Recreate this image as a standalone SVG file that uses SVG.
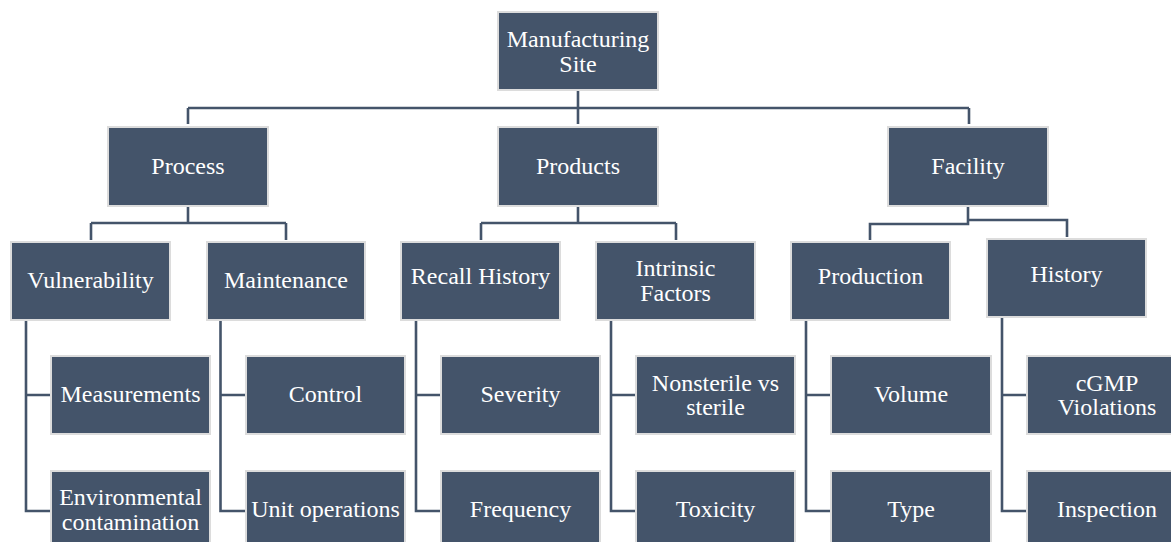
<svg xmlns="http://www.w3.org/2000/svg" width="1171" height="542" viewBox="0 0 1171 542">
<style>
.box{fill:#44546A;stroke:#dcdcdc;stroke-width:2}
.lbl{font-family:"Liberation Serif","Times New Roman",serif;font-size:24px;fill:#ffffff;text-anchor:middle}
.con{fill:none;stroke:#44546A;stroke-width:2.6}
</style>
<rect width="1171" height="542" fill="#ffffff"/>
<g id="connectors" class="con">
<path d="M578,91 V124 M188,108 H969 M188,108 V124 M969,108 V124"/>
<path d="M188,206 V223 M91,223 H286 M91,223 V240 M286,223 V240"/>
<path d="M578,206 V223 M481,223 H676 M481,223 V240 M676,223 V240"/>
<path d="M968,206 V224 M870,240 V224 H968 V220 H1067 V237"/>
<path d="M26,321 V511 H51 M26,395 H51"/>
<path d="M220.5,321 V511 H246 M220.5,395 H246"/>
<path d="M416,321 V511 H441 M416,395 H441"/>
<path d="M611,321 V511 H636 M611,395 H636"/>
<path d="M806,321 V511 H831 M806,395 H831"/>
<path d="M1002,318 V511 H1027 M1002,395 H1027"/>
</g>
<g id="manufacturing-site"><rect class="box" x="498" y="12" width="160" height="78"/><text class="lbl" x="578" y="47">Manufacturing</text><text class="lbl" x="578" y="72">Site</text></g>
<g id="process"><rect class="box" x="108" y="127" width="160" height="79"/><text class="lbl" x="188" y="174">Process</text></g>
<g id="products"><rect class="box" x="498" y="127" width="160" height="79"/><text class="lbl" x="578" y="174">Products</text></g>
<g id="facility"><rect class="box" x="888" y="127" width="160" height="79"/><text class="lbl" x="968" y="174">Facility</text></g>
<g id="vulnerability"><rect class="box" x="11" y="242" width="159" height="78"/><text class="lbl" x="90.5" y="288">Vulnerability</text></g>
<g id="maintenance"><rect class="box" x="207" y="242" width="158" height="78"/><text class="lbl" x="286" y="288">Maintenance</text></g>
<g id="recall-history"><rect class="box" x="401" y="242" width="159" height="78"/><text class="lbl" x="480.5" y="284">Recall History</text></g>
<g id="intrinsic-factors"><rect class="box" x="596" y="242" width="159" height="78"/><text class="lbl" x="675.5" y="276">Intrinsic</text><text class="lbl" x="675.5" y="301">Factors</text></g>
<g id="production"><rect class="box" x="791" y="242" width="159" height="78"/><text class="lbl" x="870.5" y="284">Production</text></g>
<g id="history"><rect class="box" x="987" y="239" width="159" height="78"/><text class="lbl" x="1066.5" y="282">History</text></g>
<g id="measurements"><rect class="box" x="51" y="356" width="159" height="78"/><text class="lbl" x="130.5" y="402">Measurements</text></g>
<g id="environmental-contamination"><rect class="box" x="51" y="471" width="159" height="78"/><text class="lbl" x="130.5" y="505">Environmental</text><text class="lbl" x="130.5" y="530">contamination</text></g>
<g id="control"><rect class="box" x="246" y="356" width="159" height="78"/><text class="lbl" x="325.5" y="402">Control</text></g>
<g id="unit-operations"><rect class="box" x="246" y="471" width="159" height="78"/><text class="lbl" x="325.5" y="517">Unit operations</text></g>
<g id="severity"><rect class="box" x="441" y="356" width="159" height="78"/><text class="lbl" x="520.5" y="402">Severity</text></g>
<g id="frequency"><rect class="box" x="441" y="471" width="159" height="78"/><text class="lbl" x="520.5" y="517">Frequency</text></g>
<g id="nonsterile-vs-sterile"><rect class="box" x="636" y="356" width="159" height="78"/><text class="lbl" x="715.5" y="391">Nonsterile vs</text><text class="lbl" x="715.5" y="415">sterile</text></g>
<g id="toxicity"><rect class="box" x="636" y="471" width="159" height="78"/><text class="lbl" x="715.5" y="517">Toxicity</text></g>
<g id="volume"><rect class="box" x="831" y="356" width="160" height="78"/><text class="lbl" x="911" y="402">Volume</text></g>
<g id="type"><rect class="box" x="831" y="471" width="160" height="78"/><text class="lbl" x="911" y="517">Type</text></g>
<g id="cgmp-violations"><rect class="box" x="1027" y="356" width="160" height="78"/><text class="lbl" x="1107" y="391">cGMP</text><text class="lbl" x="1107" y="415">Violations</text></g>
<g id="inspection"><rect class="box" x="1027" y="471" width="160" height="78"/><text class="lbl" x="1107" y="517">Inspection</text></g>
</svg>
